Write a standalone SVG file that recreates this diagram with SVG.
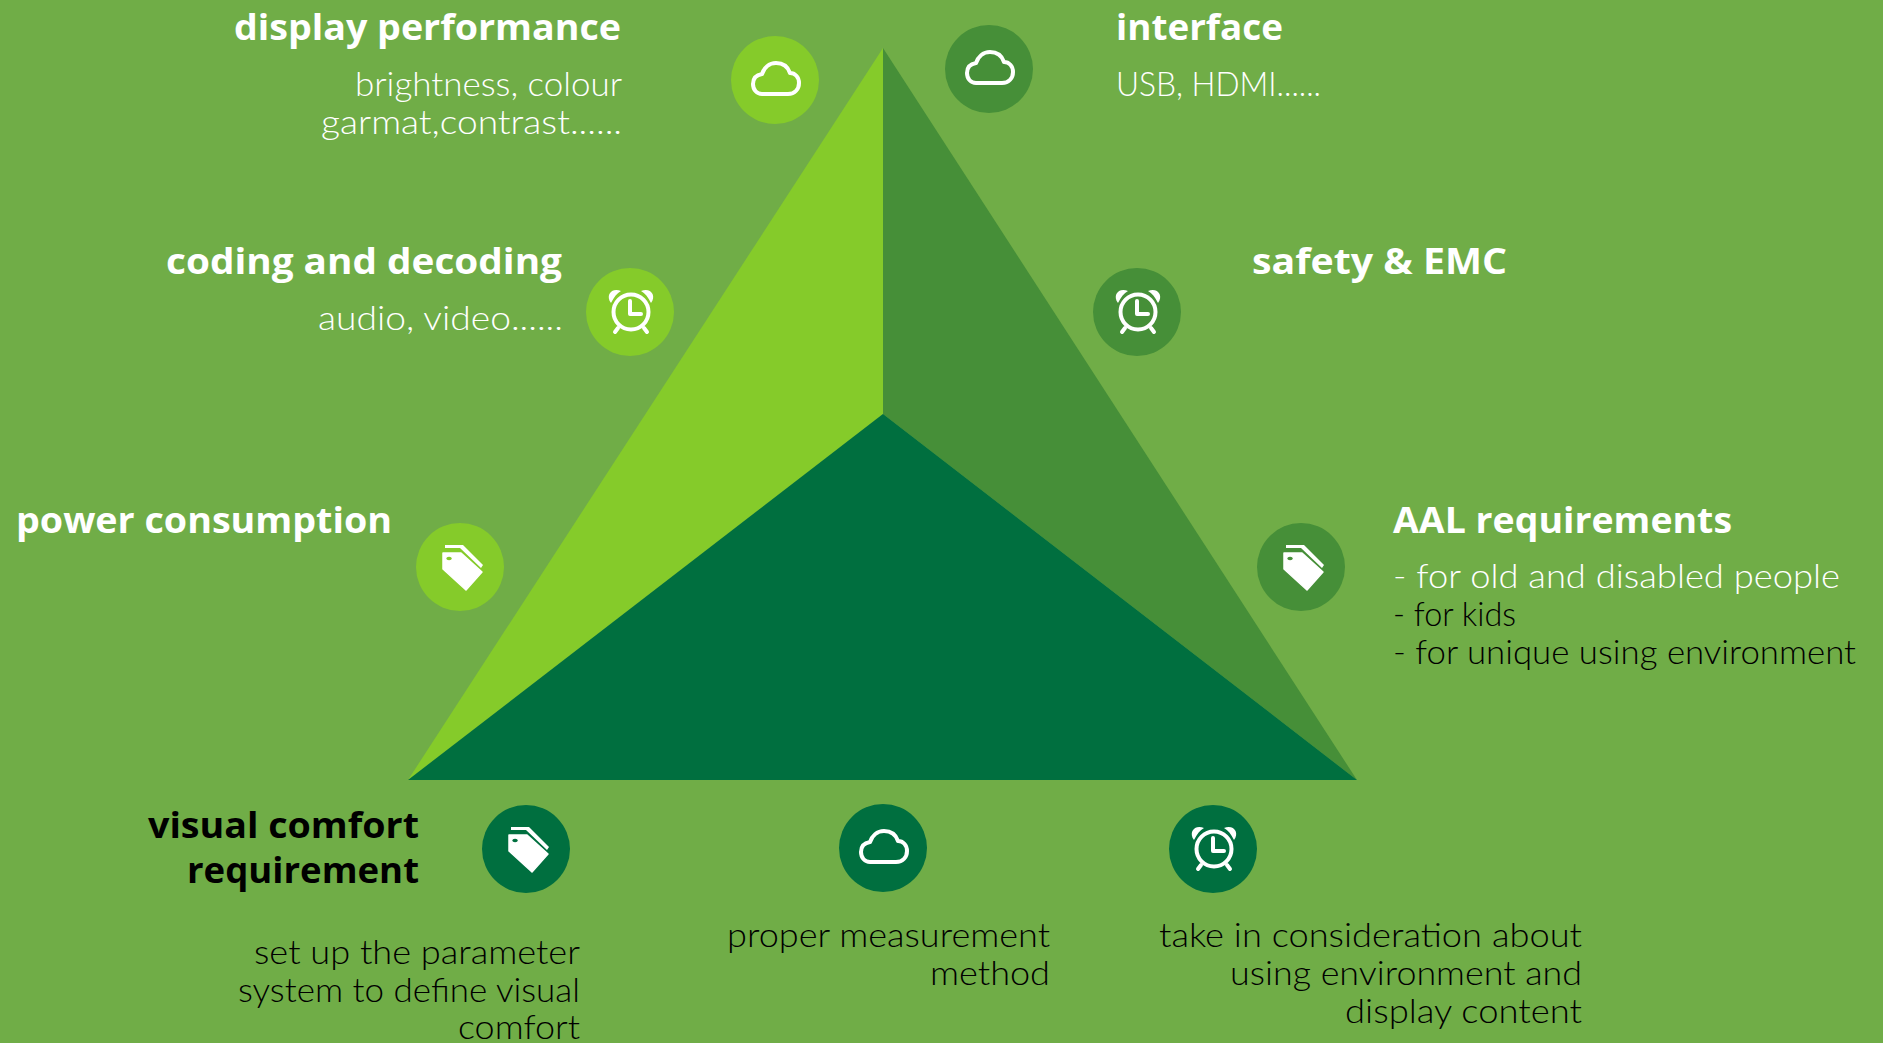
<svg xmlns="http://www.w3.org/2000/svg" width="1883" height="1043" viewBox="0 0 1883 1043">
<style>
.h{font-family:"Open Sans","Noto Sans","Liberation Sans",sans-serif;font-weight:700;font-size:36px;fill:#fff}
.t{font-family:"Lato","Noto Sans","Liberation Sans",sans-serif;font-weight:300;font-size:33.500px;fill:#fff}
.k{fill:#000}
.ln{fill:none;stroke:#fff;stroke-width:4;stroke-linecap:round;stroke-linejoin:round}
.a{fill:#85cb2a}.m{fill:#468f38}.d{fill:#006f3f}
</style>
<defs>
<g id="cloud"><path class="ln" d="M-13 14H13C20 14 24 9 24 3C24 -3 20 -7 15 -7C13 -13 8 -17 1 -17C-6 -17 -11 -12 -13 -6C-19 -5 -22 -1 -22 4C-22 10 -18 14 -13 14Z"/></g>
<g id="clock"><circle class="ln" cx="1" cy="0" r="17.500"/><path class="ln" d="M0 -11V2H11M-12 16L-15 20M14 16L17 20"/><path fill="#fff" d="M-19 -9C-25 -17 -18 -25 -9 -21C-13 -19 -16 -15 -19 -9ZM21 -9C27 -17 20 -25 11 -21C15 -19 18 -15 21 -9Z"/></g>
<g id="tag"><path fill="#fff" fill-rule="evenodd" stroke="#fff" stroke-width="1.5" stroke-linejoin="round" d="M-17 -14H1L22 5L6 23L-17 2ZM-11 -11a3.500 2.500 0 1 0 .1 0Z"/><path fill="#fff" d="M-15 -22H3L23 -2L21 1L0 -19H-15Z"/></g>
</defs>
<rect width="1883" height="1043" fill="#70ad47"/>
<g id="connectors"></g>
<g id="triangle">
<path class="a" d="M883 48V414L408 780Z"/>
<path class="m" d="M883 48V414L1357 780Z"/>
<path class="d" d="M883 414L1357 780H408Z"/>
</g>
<g id="display-performance"><circle class="a" cx="775" cy="80" r="44"/><use href="#cloud" x="775" y="80"/>
<text class="h" x="621" y="40" text-anchor="end" textLength="387" lengthAdjust="spacingAndGlyphs">display performance</text>
<text class="t" x="622" y="96" text-anchor="end" textLength="267" lengthAdjust="spacingAndGlyphs">brightness, colour</text>
<text class="t" x="622" y="134" text-anchor="end" textLength="301" lengthAdjust="spacingAndGlyphs">garmat,contrast......</text></g>
<g id="interface"><circle class="m" cx="989" cy="69" r="44"/><use href="#cloud" x="989" y="69"/>
<text class="h" x="1116" y="40" textLength="167" lengthAdjust="spacingAndGlyphs">interface</text>
<text class="t" x="1116" y="96" textLength="205" lengthAdjust="spacingAndGlyphs">USB, HDMI......</text></g>
<g id="coding"><circle class="a" cx="630" cy="312" r="44"/><use href="#clock" x="630" y="312"/>
<text class="h" x="562" y="274" text-anchor="end" textLength="396" lengthAdjust="spacingAndGlyphs">coding and decoding</text>
<text class="t" x="563" y="330" text-anchor="end" textLength="245" lengthAdjust="spacingAndGlyphs">audio, video......</text></g>
<g id="safety"><circle class="m" cx="1137" cy="312" r="44"/><use href="#clock" x="1137" y="312"/>
<text class="h" x="1252" y="274" textLength="255" lengthAdjust="spacingAndGlyphs">safety &amp; EMC</text></g>
<g id="power"><circle class="a" cx="460" cy="567" r="44"/><use href="#tag" x="460" y="567"/>
<text class="h" x="16" y="533" textLength="376" lengthAdjust="spacingAndGlyphs">power consumption</text></g>
<g id="aal"><circle class="m" cx="1301" cy="567" r="44"/><use href="#tag" x="1301" y="567"/>
<text class="h" x="1393" y="533" textLength="339" lengthAdjust="spacingAndGlyphs">AAL requirements</text>
<text class="t" x="1393" y="588" textLength="447" lengthAdjust="spacingAndGlyphs">- for old and disabled people</text>
<text class="t k" x="1393" y="626" textLength="123" lengthAdjust="spacingAndGlyphs">- for kids</text>
<text class="t k" x="1393" y="664" textLength="463" lengthAdjust="spacingAndGlyphs">- for unique using environment</text></g>
<g id="visual-comfort"><circle class="d" cx="526" cy="849" r="44"/><use href="#tag" x="526" y="849"/>
<text class="h k" x="419" y="838" text-anchor="end" textLength="271" lengthAdjust="spacingAndGlyphs">visual comfort</text>
<text class="h k" x="419" y="883" text-anchor="end" textLength="232" lengthAdjust="spacingAndGlyphs">requirement</text>
<text class="t k" x="580" y="964" text-anchor="end" textLength="326" lengthAdjust="spacingAndGlyphs">set up the parameter</text>
<text class="t k" x="580" y="1002" text-anchor="end" textLength="342" lengthAdjust="spacingAndGlyphs">system to define visual</text>
<text class="t k" x="580" y="1039" text-anchor="end" textLength="122" lengthAdjust="spacingAndGlyphs">comfort</text></g>
<g id="measurement"><circle class="d" cx="883" cy="848" r="44"/><use href="#cloud" x="883" y="848"/>
<text class="t k" x="1050" y="947" text-anchor="end" textLength="323" lengthAdjust="spacingAndGlyphs">proper measurement</text>
<text class="t k" x="1050" y="985" text-anchor="end" textLength="120" lengthAdjust="spacingAndGlyphs">method</text></g>
<g id="environment"><circle class="d" cx="1213" cy="849" r="44"/><use href="#clock" x="1213" y="849"/>
<text class="t k" x="1582" y="947" text-anchor="end" textLength="423" lengthAdjust="spacingAndGlyphs">take in consideration about</text>
<text class="t k" x="1582" y="985" text-anchor="end" textLength="352" lengthAdjust="spacingAndGlyphs">using environment and</text>
<text class="t k" x="1582" y="1023" text-anchor="end" textLength="237" lengthAdjust="spacingAndGlyphs">display content</text></g>
</svg>
